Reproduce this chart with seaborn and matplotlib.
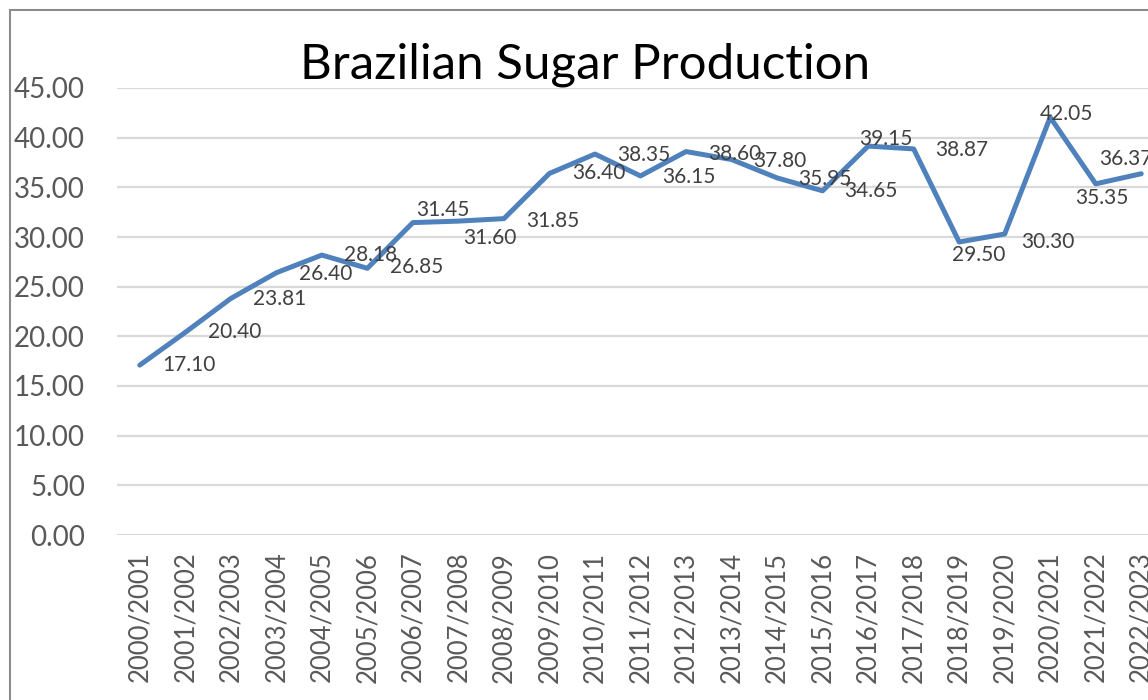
import matplotlib
matplotlib.use("Agg")
import matplotlib.pyplot as plt
import pandas as pd
import seaborn as sns
from matplotlib.patches import Rectangle

seasons = [
    "2000/2001", "2001/2002", "2002/2003", "2003/2004", "2004/2005", "2005/2006",
    "2006/2007", "2007/2008", "2008/2009", "2009/2010", "2010/2011", "2011/2012",
    "2012/2013", "2013/2014", "2014/2015", "2015/2016", "2016/2017", "2017/2018",
    "2018/2019", "2019/2020", "2020/2021", "2021/2022", "2022/2023",
]
production = [
    17.10, 20.40, 23.81, 26.40, 28.18, 26.85, 31.45, 31.60, 31.85, 36.40, 38.35, 36.15,
    38.60, 37.80, 35.95, 34.65, 39.15, 38.87, 29.50, 30.30, 42.05, 35.35, 36.37,
]
y_ticks = [0, 5, 10, 15, 20, 25, 30, 35, 40, 45]

# where each data label sits relative to its point (pixels, right / down)
label_offsets = [
    (49, 0), (49, 0), (49, 1), (49, 1), (49, 0), (49, -1), (30, -13), (31, 17),
    (49, 2), (49, 0), (49, 1), (48, 1), (49, 2), (48, 1), (48, 1), (48, 0),
    (18, -7), (48, 1), (20, 13), (43, 8), (16, -3), (6, 14), (-15, -15),
]

df = pd.DataFrame({"season": seasons, "production": production})

sns.set_style("white")
plt.rcParams["font.family"] = ["Lato", "DejaVu Sans"]

fig = plt.figure(figsize=(11.48, 7), dpi=100)
# plot area runs past the right edge, like the cropped original
ax = fig.add_axes([117 / 1148, 1 - 535 / 700, (1164 - 117) / 1148, (535 - 88) / 700])

sns.lineplot(data=df, x="season", y="production", ax=ax, color="#4f81bd",
             linewidth=3.6, sort=False)

px = 72 / fig.dpi
for i, v in enumerate(production):
    dx, dy = label_offsets[i]
    ax.annotate(f"{v:.2f}", (i, v), xytext=(dx * px, -dy * px), textcoords="offset points",
                ha="center", va="center", fontsize=15, color="#404040")

ax.set_xlim(-0.5, len(seasons) - 0.5)
ax.set_ylim(0, 45)
ax.set_yticks(y_ticks)
ax.set_yticklabels([f"{t:.2f}" for t in y_ticks])
ax.set_xticks(range(len(seasons)))
ax.set_xticklabels(seasons, rotation=90)
ax.tick_params(axis="y", length=0, pad=23, labelsize=20, labelcolor="#595959")
ax.tick_params(axis="x", length=0, pad=12, labelsize=18.5, labelcolor="#595959")
ax.set_xlabel("")
ax.set_ylabel("")
ax.grid(axis="y", color="#d9d9d9", linewidth=1.6)
ax.set_axisbelow(True)
sns.despine(ax=ax, left=True, bottom=True)

fig.text(585 / 1148, 1 - 65 / 700, "Brazilian Sugar Production", ha="center",
         va="center", fontsize=35.5, color="black")

fig.patches.append(Rectangle((10 / 1148, -0.1), 1.2, 1 - 10 / 700 + 0.1,
                             transform=fig.transFigure, fill=False,
                             edgecolor="#8c8c8c", linewidth=1.5))

fig.savefig("out.png", dpi=100)
